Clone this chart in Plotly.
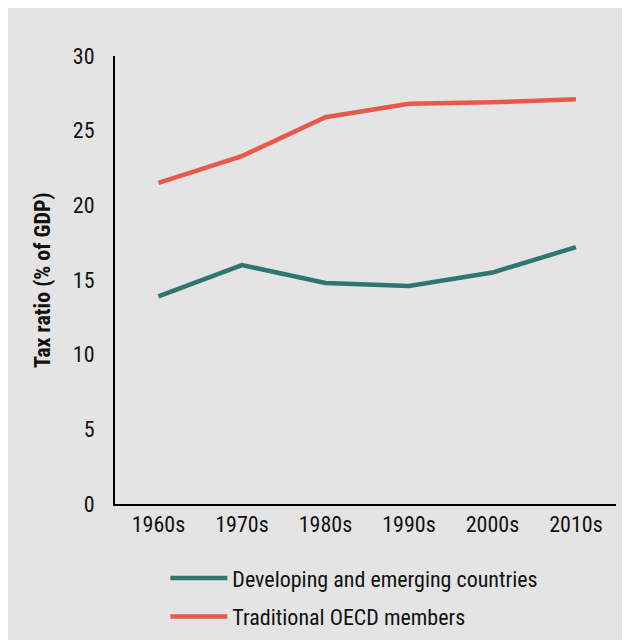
import plotly.graph_objects as go

decades = ["1960s", "1970s", "1980s", "1990s", "2000s", "2010s"]
developing = [13.9, 16.0, 14.8, 14.6, 15.5, 17.2]
oecd = [21.5, 23.3, 25.9, 26.8, 26.9, 27.1]
y_ticks = [0, 5, 10, 15, 20, 25, 30]
y_title = "Tax ratio (% of GDP)"

TEAL = "#2e766f"
RED = "#e8594a"
BG = "#e4e4e4"
FONT = "Roboto Condensed, Liberation Sans Narrow, Arial Narrow, sans-serif"

fig = go.Figure()
fig.add_trace(go.Scatter(x=list(range(len(decades))), y=developing, mode="lines",
                         name="Developing and emerging countries", legendgroup="a",
                         line=dict(color=TEAL, width=4.5)))
fig.add_trace(go.Scatter(x=list(range(len(decades))), y=oecd, mode="lines",
                         name="Traditional OECD members", legendgroup="b",
                         line=dict(color=RED, width=4.5)))

fig.add_annotation(text=f"<b>{y_title}</b>", xref="paper", yref="paper",
                   x=-0.1457, y=0.5, xanchor="center", yanchor="middle",
                   textangle=-90, showarrow=False, font=dict(size=22, color="#111111"))

fig.update_layout(
    width=622, height=632,
    paper_bgcolor=BG, plot_bgcolor=BG,
    margin=dict(l=107, r=14, t=48, b=136, autoexpand=False),
    font=dict(family=FONT, size=22, color="#111111"),
    showlegend=True,
    legend=dict(xref="container", yref="container", x=0.253, y=0.131,
                xanchor="left", yanchor="top",
                bgcolor="rgba(0,0,0,0)", itemwidth=57, tracegroupgap=7,
                traceorder="grouped", font=dict(size=22)),
    xaxis=dict(tickmode="array", tickvals=list(range(len(decades))), ticktext=decades,
               range=[-0.52, 5.48], showgrid=False, zeroline=False,
               showline=True, linecolor="#000000", linewidth=2, ticks="",
               ticklabelstandoff=0),
    yaxis=dict(range=[0, 30], tickvals=y_ticks, showgrid=False, zeroline=False,
               showline=True, linecolor="#000000", linewidth=2, ticks="",
               ticklabelstandoff=14),
)

fig.write_html("out.html")
